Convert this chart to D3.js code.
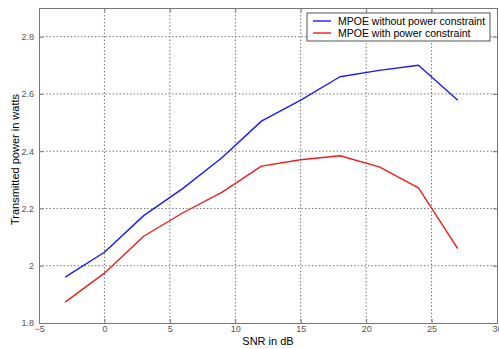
<!DOCTYPE html>
<meta charset="utf-8">
<style>
body { margin: 0; background: #fff; }
svg { font-family: Arial, "Liberation Sans", sans-serif; }
.grid line { stroke: #777; stroke-dasharray: 1.5,2; stroke-width: 1; }
.axis path, .axis line { stroke: #777; }
.axis text { fill: #555; font-size: 9px; }
.series { fill: none; stroke-width: 1.4px; stroke-linejoin: round; }
</style>
<svg width="499" height="349"></svg>
<script src="https://cdn.jsdelivr.net/npm/d3@7"></script>
<script>

var snr = [-3, 0, 3, 6, 9, 12, 15, 18, 21, 24, 27];
var withoutConstraint = [1.96, 2.047, 2.175, 2.27, 2.378, 2.505, 2.578, 2.66, 2.682, 2.7, 2.578];
var withConstraint = [1.873, 1.974, 2.103, 2.185, 2.257, 2.348, 2.37, 2.384, 2.345, 2.272, 2.06];
var xTicks = [-5, 0, 5, 10, 15, 20, 25, 30];
var yTicks = [1.8, 2, 2.2, 2.4, 2.6, 2.8];
var seriesNames = ["MPOE without power constraint", "MPOE with power constraint"];
var seriesColors = ["#1a1aff", "#ee1c1c"];

var svg = d3.select("svg"),
    margin = {top: 8, right: 2, bottom: 26, left: 39},
    width = svg.attr("width") - margin.left - margin.right,
    height = svg.attr("height") - margin.top - margin.bottom,
    g = svg.append("g").attr("transform", "translate(" + margin.left + "," + margin.top + ")");

var x = d3.scaleLinear().domain([-5, 30]).range([0, width]);
var y = d3.scaleLinear().domain([1.8, 2.9]).range([height, 0]);

// dotted grid
var grid = g.append("g").attr("class", "grid");
grid.selectAll(".gx")
  .data(xTicks.slice(1, -1))
  .enter().append("line")
    .attr("x1", function(d) { return x(d); })
    .attr("x2", function(d) { return x(d); })
    .attr("y1", 0).attr("y2", height);
grid.selectAll(".gy")
  .data(yTicks.slice(1))
  .enter().append("line")
    .attr("x1", 0).attr("x2", width)
    .attr("y1", function(d) { return y(d); })
    .attr("y2", function(d) { return y(d); });

g.append("g")
    .attr("class", "axis")
    .attr("transform", "translate(0," + height + ")")
    .call(d3.axisBottom(x).tickValues(xTicks).tickSize(-4).tickPadding(3).tickFormat(d3.format("d")));

g.append("g")
    .attr("class", "axis")
    .call(d3.axisLeft(y).tickValues(yTicks).tickSize(-4).tickPadding(5).tickFormat(function(d) { return d === 2 ? "2" : d3.format(".1f")(d); }));

g.append("g")
    .attr("class", "axis")
    .call(d3.axisTop(x).tickValues(xTicks).tickSize(-4).tickFormat(""));

g.append("g")
    .attr("class", "axis")
    .attr("transform", "translate(" + width + ",0)")
    .call(d3.axisRight(y).tickValues(yTicks).tickSize(-4).tickFormat(""));

var line = d3.line()
    .x(function(d, i) { return x(snr[i]); })
    .y(function(d) { return y(d); });

g.selectAll(".series")
  .data([withoutConstraint, withConstraint])
  .enter().append("path")
    .attr("class", "series")
    .attr("stroke", function(d, i) { return seriesColors[i]; })
    .attr("d", line);

// legend
var legend = g.append("g").attr("transform", "translate(268,5)");
legend.append("rect")
    .attr("width", 183).attr("height", 28)
    .attr("fill", "#fff").attr("stroke", "#555");
legend.selectAll(".item")
  .data(seriesNames)
  .enter().append("g")
    .attr("transform", function(d, i) { return "translate(0," + (8 + i * 12) + ")"; })
    .each(function(d, i) {
      var item = d3.select(this);
      item.append("line")
          .attr("x1", 6).attr("x2", 24)
          .attr("stroke", seriesColors[i]).attr("stroke-width", 1.4);
      item.append("text")
          .attr("x", 31).attr("dy", "0.35em")
          .style("font-size", "10.5px").style("fill", "#000")
          .text(d);
    });

svg.append("text")
    .attr("x", margin.left + width / 2)
    .attr("y", 345)
    .attr("text-anchor", "middle")
    .style("font-size", "11px")
    .text("SNR in dB");

svg.append("text")
    .attr("transform", "translate(19," + (margin.top + height / 2 - 6) + ") rotate(-90)")
    .attr("text-anchor", "middle")
    .style("font-size", "11px")
    .text("Transmitted power in watts");

</script>
